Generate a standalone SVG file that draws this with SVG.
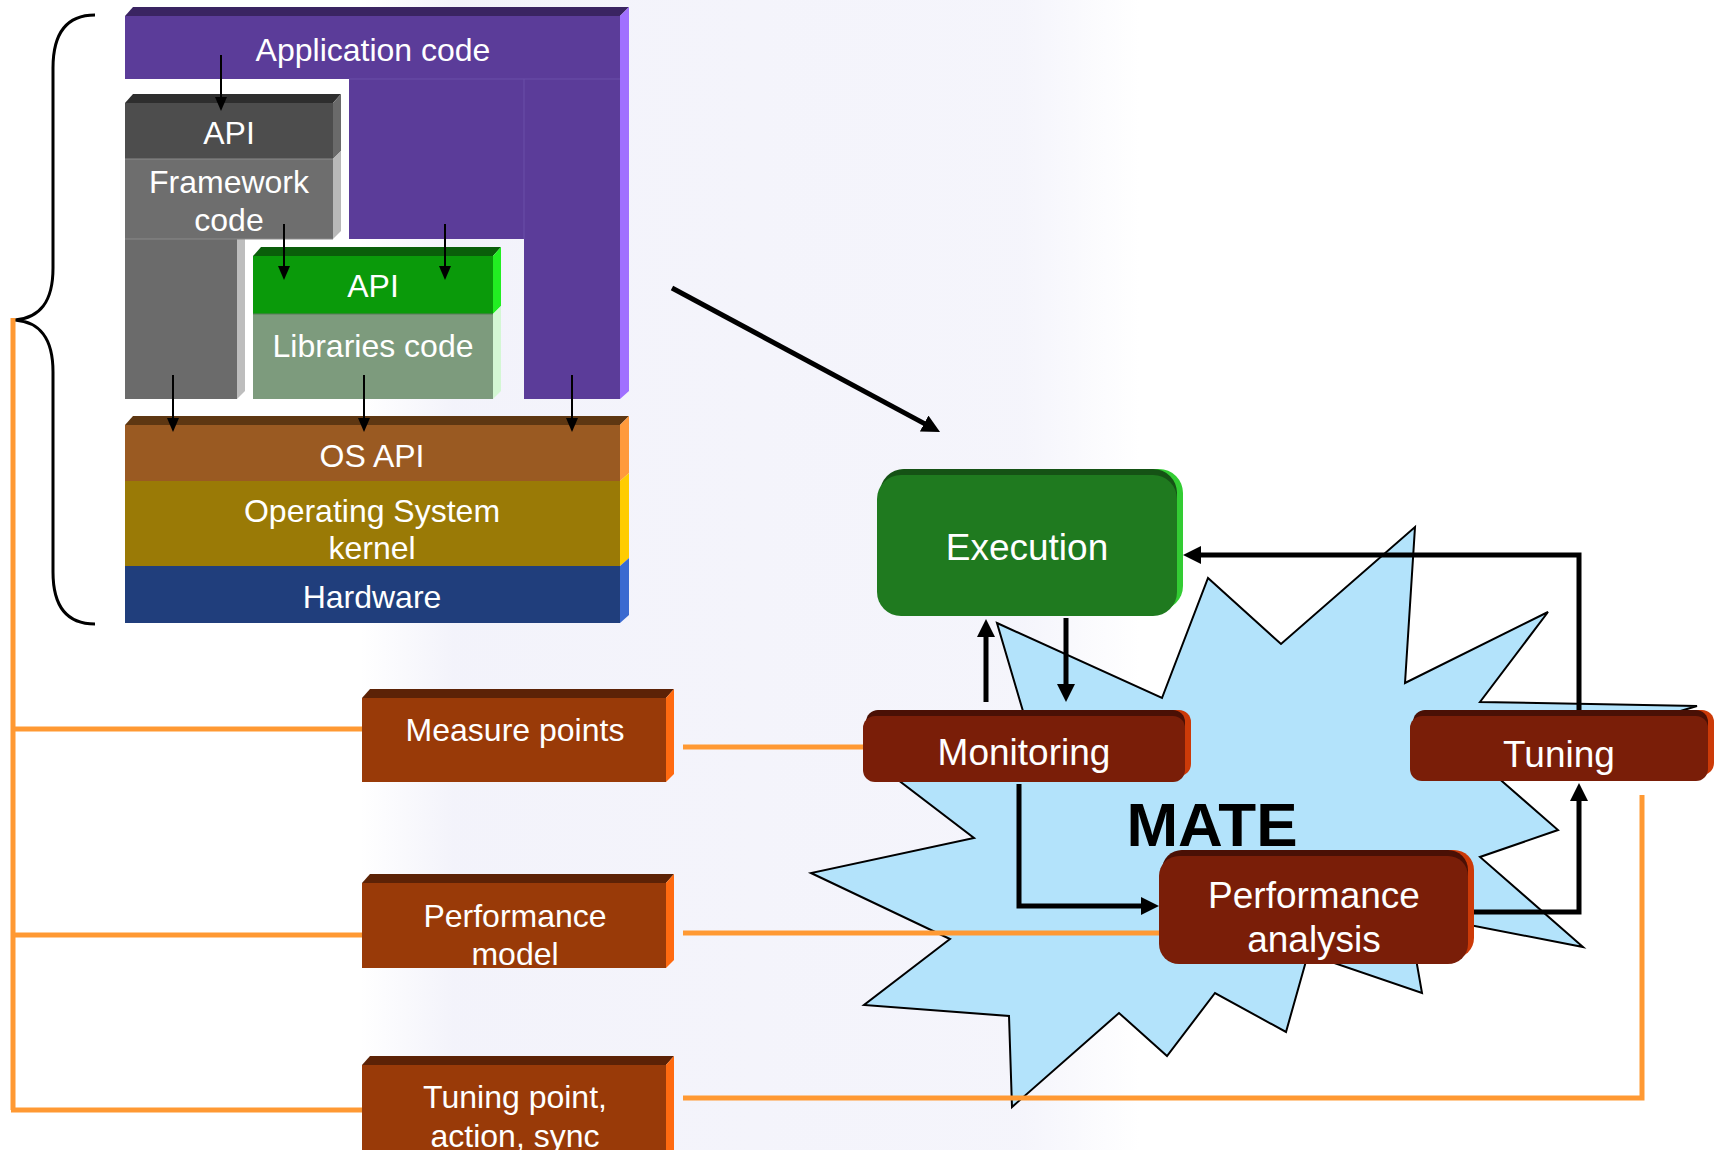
<svg xmlns="http://www.w3.org/2000/svg" width="1716" height="1150" viewBox="0 0 1716 1150">
  <defs>
    <marker id="ah-s" markerUnits="userSpaceOnUse" markerWidth="14" markerHeight="12" refX="3" refY="6" orient="auto">
      <path d="M0,0 L14,6 L0,12 z" fill="#000"/>
    </marker>
    <marker id="ah-l" markerUnits="userSpaceOnUse" markerWidth="18" markerHeight="18" refX="3" refY="9" orient="auto">
      <path d="M0,0 L18,9 L0,18 z" fill="#000"/>
    </marker>
    <linearGradient id="haze" x1="0" y1="0" x2="1" y2="0">
      <stop offset="0" stop-color="#eeeef9" stop-opacity="0"/>
      <stop offset="0.12" stop-color="#eeeef9" stop-opacity="0.7"/>
      <stop offset="0.85" stop-color="#eeeef9" stop-opacity="0.6"/>
      <stop offset="1" stop-color="#eeeef9" stop-opacity="0"/>
    </linearGradient>
  </defs>
  <style>
    text { font-family: "Liberation Sans", Arial, sans-serif; fill: #fff; text-anchor: middle; }
    .t32 { font-size: 32px; }
    .t37 { font-size: 37px; }
    .mate { font-size: 62px; font-weight: bold; fill: #000; }
    .brace { fill: none; stroke: #000; stroke-width: 3; }
    .orange { fill: none; stroke: #ff9933; stroke-width: 5; }
    .thin { fill: none; stroke: #000; stroke-width: 2; marker-end: url(#ah-s); }
    .thick { fill: none; stroke: #000; stroke-width: 5; stroke-linejoin: miter; marker-end: url(#ah-l); }
    .burst { fill: #b3e3fb; stroke: #000; stroke-width: 2; stroke-linejoin: miter; }
    .sep { stroke-width: 1; }
  </style>

  <!-- page -->
  <rect width="1716" height="1150" fill="#fff"/>
  <rect x="360" y="0" width="780" height="1150" fill="url(#haze)"/>

  <!-- curly brace grouping the software stack -->
  <path class="brace" d="M95,15 C66,15 53,34 53,68 L53,268 C53,302 40,318 15,320 C40,322 53,338 53,372 L53,572 C53,606 66,624 95,624"/>

  <!-- software stack -->
  <g id="app-code">
    <polygon points="125,16 133,7 629,7 620,16" fill="#3a2462"/>
    <polygon points="620,16 629,7 629,391 620,399" fill="#a070ff"/>
    <polygon points="125,16 620,16 620,399 524,399 524,239 349,239 349,79 125,79" fill="#5b3c99"/>
    <path class="sep" d="M349,79 H620 M524,79 V239" stroke="#6a4fa8"/>
    <text class="t32" x="373" y="61">Application code</text>
  </g>

  <g id="framework">
    <polygon points="125,103 133,94 341,94 333,103" fill="#2e2e2e"/>
    <polygon points="333,103 341,94 341,151 333,159" fill="#6a6a6a"/>
    <polygon points="333,159 341,151 341,231 333,239" fill="#b8b8b8"/>
    <polygon points="237,239 245,239 245,391 237,399" fill="#bdbdbd"/>
    <rect x="125" y="103" width="208" height="56" fill="#4d4d4d"/>
    <rect x="125" y="159" width="208" height="80" fill="#6e6e6e"/>
    <rect x="125" y="239" width="112" height="160" fill="#6b6b6b"/>
    <path class="sep" d="M125,159 H333 M125,239 H333" stroke="#8a8a8a"/>
    <text class="t32" x="229" y="144">API</text>
    <text class="t32" x="229" y="193">Framework</text>
    <text class="t32" x="229" y="231">code</text>
  </g>

  <g id="libraries">
    <polygon points="253,256 261,247 501,247 493,256" fill="#0a5e0a"/>
    <polygon points="493,256 501,247 501,306 493,314" fill="#22ee22"/>
    <polygon points="493,314 501,306 501,391 493,399" fill="#d4f7d4"/>
    <rect x="253" y="256" width="240" height="58" fill="#0a9a0a"/>
    <rect x="253" y="314" width="240" height="85" fill="#7d9b7d"/>
    <path class="sep" d="M253,314 H493" stroke="#5a7a5a"/>
    <text class="t32" x="373" y="297">API</text>
    <text class="t32" x="373" y="357">Libraries code</text>
  </g>

  <g id="os-api">
    <polygon points="125,425 133,416 629,416 620,425" fill="#5e3712"/>
    <polygon points="620,425 629,416 629,473 620,481" fill="#ff9a3c"/>
    <rect x="125" y="425" width="495" height="56" fill="#9a5a22"/>
    <text class="t32" x="372" y="467">OS API</text>
  </g>

  <g id="os-kernel">
    <polygon points="620,481 629,473 629,558 620,566" fill="#ffcc00"/>
    <rect x="125" y="481" width="495" height="85" fill="#9a7a06"/>
    <text class="t32" x="372" y="522">Operating System</text>
    <text class="t32" x="372" y="559">kernel</text>
  </g>

  <g id="hardware">
    <polygon points="620,566 629,558 629,615 620,623" fill="#3a6ad0"/>
    <rect x="125" y="566" width="495" height="57" fill="#203e7c"/>
    <text class="t32" x="372" y="608">Hardware</text>
  </g>

  <!-- MATE cycle backdrop -->
  <g id="mate-burst">
    <polygon class="burst" points="997,623 1162,698 1208,578 1281,644 1415,527 1405,683 1548,612 1480,702 1697,706 1488,769 1558,830 1480,857 1583,947 1408,913 1422,993 1308,954 1286,1032 1215,993 1167,1056 1119,1013 1012,1107 1009,1016 864,1005 950,939 811,873 974,838 868,757 1030,735"/>
    <text class="mate" x="1212" y="846">MATE</text>
  </g>

  <!-- instrumentation concepts -->
  <g id="measure-points">
    <polygon points="362,698 370,689 674,689 666,698" fill="#5c2206"/>
    <polygon points="666,698 674,689 674,774 666,782" fill="#ff6a10"/>
    <rect x="362" y="698" width="304" height="84" fill="#993a08"/>
    <text class="t32" x="515" y="741">Measure points</text>
  </g>

  <g id="performance-model">
    <polygon points="362,883 370,874 674,874 666,883" fill="#5c2206"/>
    <polygon points="666,883 674,874 674,960 666,968" fill="#ff6a10"/>
    <rect x="362" y="883" width="304" height="85" fill="#993a08"/>
    <text class="t32" x="515" y="927">Performance</text>
    <text class="t32" x="515" y="965">model</text>
  </g>

  <g id="tuning-point">
    <polygon points="362,1065 370,1056 674,1056 666,1065" fill="#5c2206"/>
    <polygon points="666,1065 674,1056 674,1150 666,1150" fill="#ff6a10"/>
    <rect x="362" y="1065" width="304" height="90" fill="#993a08"/>
    <text class="t32" x="515" y="1108">Tuning point,</text>
    <text class="t32" x="515" y="1147">action, sync</text>
  </g>

  <!-- MATE stages -->
  <g id="execution">
    <rect x="883" y="469" width="300" height="141" rx="24" fill="#33cc33"/>
    <rect x="880" y="469" width="297" height="141" rx="24" fill="#155215"/>
    <rect x="877" y="475" width="300" height="141" rx="24" fill="#1f7a1f"/>
    <text class="t37" x="1027" y="560">Execution</text>
  </g>

  <g id="monitoring">
    <rect x="869" y="710" width="322" height="66" rx="12" fill="#cc3a08"/>
    <rect x="866" y="710" width="319" height="66" rx="12" fill="#4a1005"/>
    <rect x="863" y="716" width="322" height="66" rx="12" fill="#7a1e08"/>
    <text class="t37" x="1024" y="765">Monitoring</text>
  </g>

  <g id="tuning">
    <rect x="1416" y="710" width="298" height="65" rx="12" fill="#cc3a08"/>
    <rect x="1413" y="710" width="295" height="65" rx="12" fill="#4a1005"/>
    <rect x="1410" y="716" width="298" height="65" rx="12" fill="#7a1e08"/>
    <text class="t37" x="1559" y="767">Tuning</text>
  </g>

  <g id="performance-analysis">
    <rect x="1165" y="850" width="309" height="108" rx="20" fill="#cc3a08"/>
    <rect x="1162" y="850" width="306" height="108" rx="20" fill="#4a1005"/>
    <rect x="1159" y="856" width="309" height="108" rx="20" fill="#7a1e08"/>
    <text class="t37" x="1314" y="908">Performance</text>
    <text class="t37" x="1314" y="952">analysis</text>
  </g>

  <g id="connectors">
    <!-- orange links between concepts and stages -->
    <path class="orange" d="M13,318 V1110"/>
    <path class="orange" d="M11,729 H362 M11,935 H362 M11,1110 H362"/>
    <path class="orange" d="M683,747 H863"/>
    <path class="orange" d="M683,933 H1159"/>
    <path class="orange" d="M683,1098 H1642 V795"/>

    <!-- calls through the software stack -->
    <path class="thin" d="M221,55 V100"/>
    <path class="thin" d="M284,224 V269"/>
    <path class="thin" d="M445,224 V269"/>
    <path class="thin" d="M173,375 V421"/>
    <path class="thin" d="M364,375 V421"/>
    <path class="thin" d="M572,375 V421"/>

    <!-- stack runs as the execution -->
    <path class="thick" d="M672,288 L926.8,424.9"/>

    <!-- MATE loop -->
    <path class="thick" d="M986,702 V634"/>
    <path class="thick" d="M1066,618 V687"/>
    <path class="thick" d="M1019,784 V906 H1144"/>
    <path class="thick" d="M1474,912 H1579 V798"/>
    <path class="thick" d="M1579,710 V555 H1198"/>
  </g>
</svg>
